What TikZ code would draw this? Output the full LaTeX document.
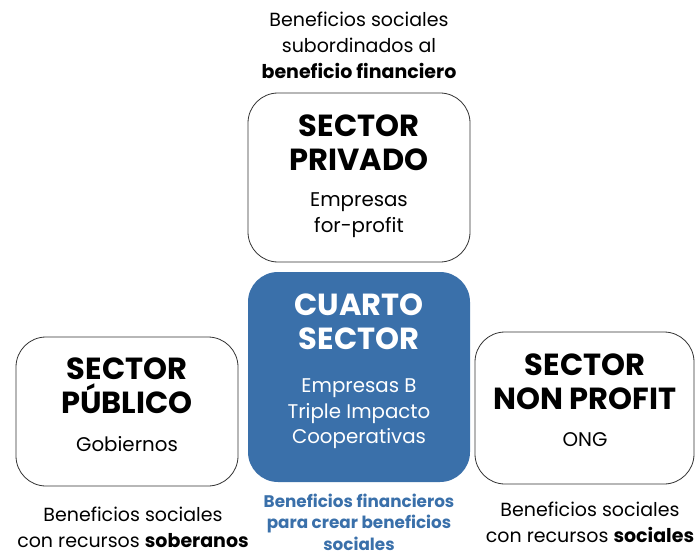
\documentclass[tikz,border=0pt]{standalone}
\usepackage{fontspec}
\setmainfont{Poppins}
\begin{document}
\begin{tikzpicture}[x=1pt,y=-1pt,
  box/.style={draw=black!80, line width=0.8pt, rounded corners=30pt, fill=white},
  bluebox/.style={fill=cuarto, rounded corners=30pt},
  title/.style={font=\fontsize{30.5}{34}\selectfont\bfseries, align=center, inner sep=0pt},
  sub/.style={font=\fontsize{19.8}{25.5}\selectfont, align=center, inner sep=0pt},
  note/.style={font=\fontsize{19}{26}\selectfont, align=center, inner sep=0pt},
  bluenote/.style={font=\fontsize{16.8}{21.5}\selectfont\bfseries, align=center, inner sep=0pt, text=cuarto}]
\definecolor{cuarto}{RGB}{58,112,170}
\useasboundingbox (0,0) rectangle (695,556);
% boxes
\draw[box] (248,93) rectangle (470,262);
\fill[bluebox] (248,272) rectangle (470,482);
\draw[box] (16,337) rectangle (238,486);
\draw[box] (475,332) rectangle (694,484);
% top note
\node[note] (topnote) at (359,45) {Beneficios sociales\\subordinados al\\\textbf{beneficio financiero}};
% privado
\node[title] (privT) at (359,143) {SECTOR\\PRIVADO};
\node[sub] (privS) at (359,215) {Empresas\\for-profit};
% cuarto
\node[title, text=white] (cuaT) at (359,322) {CUARTO\\SECTOR};
\node[sub, text=white] (cuaS) at (359,414) {Empresas B\\Triple Impacto\\Cooperativas};
\node[bluenote] (cuaN) at (359,522) {Beneficios financieros\\para crear beneficios\\sociales};
% publico
\node[title] (pubT) at (127,386) {SECTOR\\PÚBLICO};
\node[sub] (pubS) at (127,444) {Gobiernos};
\node[note] (pubN) at (133,527) {Beneficios sociales\\con recursos \textbf{soberanos}};
% non profit
\node[title] (npT) at (585,382) {SECTOR\\NON PROFIT};
\node[sub] (npS) at (585,440) {ONG};
\node[note] (npN) at (590,522) {Beneficios sociales\\con recursos \textbf{sociales}};
\end{tikzpicture}
\end{document}
